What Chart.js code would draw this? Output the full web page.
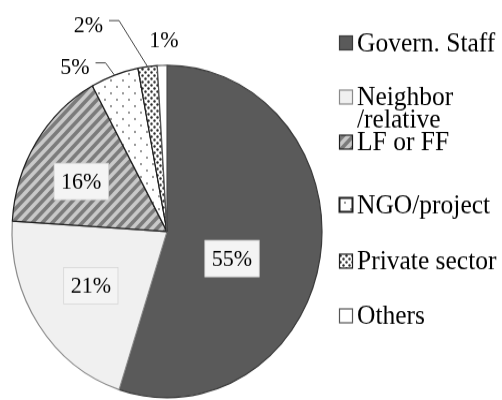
<!DOCTYPE html>
<html>
<head>
<meta charset="utf-8">
<script src="https://cdn.jsdelivr.net/npm/chart.js@4"></script>
<style>
  html, body { margin: 0; padding: 0; background: #fff; overflow: hidden; }
  /* the source picture is slightly stretched vertically, so the whole chart is too */
  #wrap { position: absolute; left: 0; top: 0; width: 502px; height: 373px;
          transform: scaleY(1.0724); transform-origin: 0 0; }
</style>
</head>
<body>
<div id="wrap"><canvas id="chart"></canvas></div>
<script>
// data
const categories = ['Govern. Staff', ['Neighbor', '/relative'], 'LF or FF', 'NGO/project', 'Private sector', 'Others'];
const shares = [55, 21, 16, 5, 2, 1];

const LABEL_FONT = '22px "Liberation Serif"';
const LEGEND_FONT = '25.5px "Liberation Serif"';
const TEXT = '#000';

function makePattern(size, paint) {
  const tile = document.createElement('canvas');
  tile.width = size;
  tile.height = size;
  const g = tile.getContext('2d');
  paint(g);
  return g.createPattern(tile, 'repeat');
}

const stripes = makePattern(10, (g) => {
  g.fillStyle = '#c9c9c9';
  g.fillRect(0, 0, 10, 10);
  g.strokeStyle = '#7b7b7b';
  g.lineWidth = 3.5;
  g.beginPath();
  g.moveTo(-5, 5); g.lineTo(5, -5);
  g.moveTo(0, 10); g.lineTo(10, 0);
  g.moveTo(5, 15); g.lineTo(15, 5);
  g.stroke();
});

const sparseDots = makePattern(12, (g) => {
  g.fillStyle = '#fff';
  g.fillRect(0, 0, 12, 12);
  g.fillStyle = '#6a6a6a';
  [[3, 3], [9, 9]].forEach(([x, y]) => { g.beginPath(); g.arc(x, y, 0.9, 0, Math.PI * 2); g.fill(); });
});

const denseDots = makePattern(6, (g) => {
  g.fillStyle = '#fff';
  g.fillRect(0, 0, 6, 6);
  g.fillStyle = '#2a2a2a';
  [[1.5, 1.5], [4.5, 4.5]].forEach(([x, y]) => { g.beginPath(); g.arc(x, y, 1.2, 0, Math.PI * 2); g.fill(); });
});

const fills = ['#5a5a5a', '#f0f0f0', stripes, sparseDots, denseDots, '#ffffff'];
const borders = ['#3a3a3a', '#8a8a8a', '#1e1e1e', '#1e1e1e', '#1e1e1e', '#555555'];

// where each percentage sits, relative to its slice (angle shift in degrees, radius fraction)
const labelPlacement = [
  { inside: true, dAngle: 12.2, r: 0.45 },
  { inside: true, dAngle: 0.6, r: 0.59 },
  { inside: true, dAngle: -3.8, r: 0.63 },
  { inside: false, dAngle: -11.2, r: 1.154, leader: true },
  { inside: false, dAngle: -15, r: 1.343, leader: true },
  { inside: false, dAngle: 0.8, r: 1.152 },
];

const sliceLabels = {
  id: 'sliceLabels',
  afterDraw(chart) {
    const ctx = chart.ctx;
    const arcs = chart.getDatasetMeta(0).data;
    arcs.forEach((arc, i) => {
      const p = labelPlacement[i];
      const txt = shares[i] + '%';
      const mid = (arc.startAngle + arc.endAngle) / 2;
      const a = mid + p.dAngle * Math.PI / 180;
      const R = arc.outerRadius;
      const lx = arc.x + Math.cos(a) * R * p.r;
      const ly = arc.y + Math.sin(a) * R * p.r;
      ctx.save();
      ctx.font = LABEL_FONT;
      const tw = ctx.measureText(txt).width;
      if (p.inside) {
        ctx.fillStyle = '#f4f4f4';
        ctx.strokeStyle = '#d6d6d6';
        ctx.lineWidth = 0.8;
        ctx.fillRect(lx - tw / 2 - 7, ly - 17, tw + 14, 34);
        ctx.strokeRect(lx - tw / 2 - 7, ly - 17, tw + 14, 34);
      }
      if (p.leader) {
        const sx = lx + tw / 2 + 6;
        const sy = ly - 4;
        ctx.strokeStyle = '#444';
        ctx.lineWidth = 1;
        ctx.beginPath();
        ctx.moveTo(sx, sy);
        ctx.lineTo(sx + 10, sy);
        ctx.lineTo(arc.x + Math.cos(mid) * R, arc.y + Math.sin(mid) * R);
        ctx.stroke();
      }
      ctx.fillStyle = TEXT;
      ctx.font = LABEL_FONT;
      ctx.textAlign = 'center';
      ctx.textBaseline = 'middle';
      ctx.fillText(txt, lx, ly + 1);
      ctx.restore();
    });
  },
};

// legend rows, right of the pie
const legendRows = [40, 90.5, 132.5, 191, 243.5, 294.5];

const sideLegend = {
  id: 'sideLegend',
  afterDraw(chart) {
    const ctx = chart.ctx;
    const ds = chart.data.datasets[0];
    chart.data.labels.forEach((label, i) => {
      const y = legendRows[i];
      ctx.save();
      ctx.fillStyle = ds.backgroundColor[i];
      ctx.fillRect(339.5, y - 6.5, 13, 13);
      ctx.strokeStyle = ds.borderColor[i];
      ctx.lineWidth = i === 3 ? 2 : 1.2;
      ctx.strokeRect(339.5, y - 6.5, 13, 13);
      ctx.fillStyle = TEXT;
      ctx.font = LEGEND_FONT;
      ctx.textAlign = 'left';
      ctx.textBaseline = 'middle';
      const lines = Array.isArray(label) ? label : [label];
      lines.forEach((ln, k) => ctx.fillText(ln, 357, y + 1 + k * 20.5));
      ctx.restore();
    });
  },
};

new Chart(document.getElementById('chart'), {
  type: 'pie',
  data: {
    labels: categories,
    datasets: [{
      data: shares,
      backgroundColor: fills,
      borderColor: borders,
      borderWidth: 1.2,
      hoverBorderWidth: 1.2,
      offset: 0,
      hoverOffset: 0,
    }],
  },
  options: {
    responsive: true,
    maintainAspectRatio: false,
    animation: false,
    layout: { padding: { left: 11.4, right: 179.4, top: 60.3, bottom: 1.5 } },
    plugins: {
      legend: { display: false },
      tooltip: { enabled: false },
    },
  },
  plugins: [sliceLabels, sideLegend],
});
</script>
</body>
</html>
